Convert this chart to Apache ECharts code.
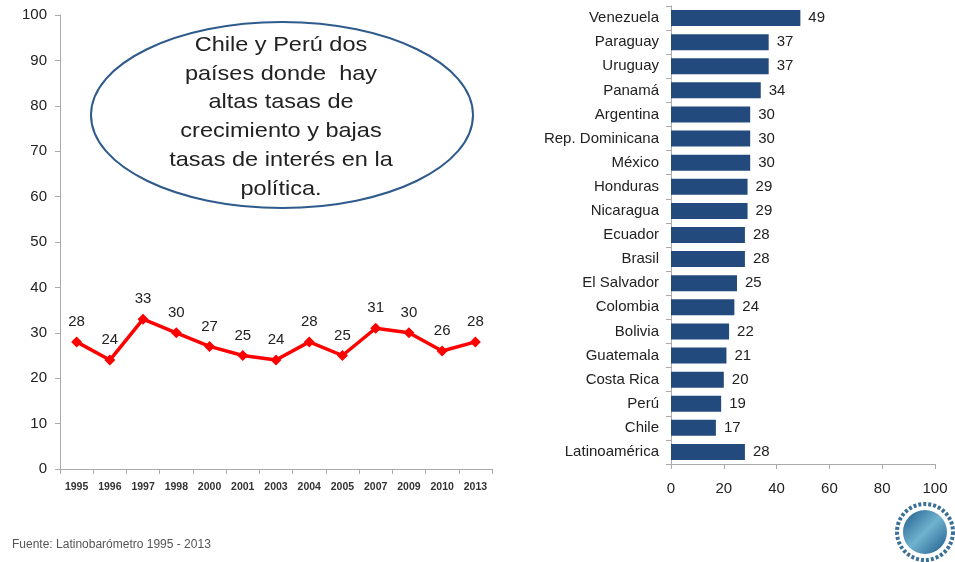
<!DOCTYPE html>
<html><head><meta charset="utf-8">
<script src="https://cdn.jsdelivr.net/npm/echarts@6/dist/echarts.min.js"></script>
<style>html,body{margin:0;padding:0;background:#fff}#c{width:955px;height:562px}</style>
</head><body><div id="c"></div>
<script>
const years = ['1995','1996','1997','1998','2000','2001','2003','2004','2005','2007','2009','2010','2013'];
const yearValues = [28,24,33,30,27,25,24,28,25,31,30,26,28];
const countries = ['Venezuela','Paraguay','Uruguay','Panamá','Argentina','Rep. Dominicana','México','Honduras','Nicaragua','Ecuador','Brasil','El Salvador','Colombia','Bolivia','Guatemala','Costa Rica','Perú','Chile','Latinoamérica'];
const countryValues = [49,37,37,34,30,30,30,29,29,28,28,25,24,22,21,20,19,17,28];
const noteLines = ['Chile y Perú dos','países donde  hay','altas tasas de','crecimiento y bajas','tasas de interés en la','política.'];

const font = 'Liberation Sans, Arial, sans-serif';
const chart = echarts.init(document.getElementById('c'));
chart.setOption({
  animation:false,
  textStyle:{fontFamily:font},
  grid:[
    {left:60,right:463,top:15,bottom:93},
    {left:671,right:20,top:6,bottom:98}
  ],
  xAxis:[
    {gridIndex:0,type:'category',data:years,boundaryGap:true,
     axisLine:{lineStyle:{color:'#aaa',width:1}},
     axisTick:{show:true,alignWithLabel:false,length:5,lineStyle:{color:'#aaa'}},
     axisLabel:{color:'#333',fontSize:10.5,fontFamily:'Liberation Sans Narrow, Arial Narrow, Liberation Sans, sans-serif',fontWeight:'bold',margin:13,interval:0}},
    {gridIndex:1,type:'value',min:0,max:100,interval:20,
     axisLine:{show:true,lineStyle:{color:'#aaa'}},
     axisTick:{show:true,length:5,lineStyle:{color:'#aaa'}},
     splitLine:{show:false},
     axisLabel:{color:'#222',fontSize:15,margin:17}}
  ],
  yAxis:[
    {gridIndex:0,type:'value',min:0,max:100,interval:10,
     axisLine:{show:true,lineStyle:{color:'#aaa'}},
     axisTick:{show:true,length:5,lineStyle:{color:'#aaa'}},
     splitLine:{show:false},
     axisLabel:{color:'#222',fontSize:15,margin:13}},
    {gridIndex:1,type:'category',data:countries,inverse:true,
     axisLine:{lineStyle:{color:'#aaa'}},
     axisTick:{show:true,length:5,lineStyle:{color:'#aaa'}},
     axisLabel:{color:'#222',fontSize:15,margin:12,interval:0}}
  ],
  series:[
    {type:'line',xAxisIndex:0,yAxisIndex:0,data:yearValues,
     symbol:'diamond',symbolSize:11,
     lineStyle:{color:'#ff0000',width:3.5},
     itemStyle:{color:'#ff0000'},
     label:{show:true,position:'top',distance:7,color:'#222',fontSize:15}},
    {type:'bar',xAxisIndex:1,yAxisIndex:1,data:countryValues,barWidth:16,
     itemStyle:{color:'#234a7c'},
     label:{show:true,position:'right',distance:8,color:'#222',fontSize:15}}
  ],
  graphic:[
    {type:'ellipse',shape:{cx:282,cy:115,rx:191,ry:93},
     style:{fill:'#fff',stroke:'#2f5b8c',lineWidth:2}},
    ...noteLines.map((t,i)=>({type:'text',x:281,y:45+i*28.8,scaleX:1.12,
      style:{text:t,font:'21px '+font,fill:'#222',align:'center',verticalAlign:'middle'}})),
    {type:'text',left:12,top:539,style:{text:'Fuente: Latinobarómetro 1995 - 2013',font:'12px '+font,fill:'#555'}},
    {type:'circle',shape:{cx:925,cy:532,r:28},style:{fill:'#fff',stroke:'#3a6f96',lineWidth:4,lineDash:[3,2]}},
    {type:'circle',shape:{cx:925,cy:532,r:22},style:{fill:{type:'linear',x:0,y:0,x2:1,y2:1,colorStops:[{offset:0,color:'#1f5a8a'},{offset:0.5,color:'#6fb3cf'},{offset:1,color:'#1f5a8a'}]}}}
  ]
});
</script></body></html>
